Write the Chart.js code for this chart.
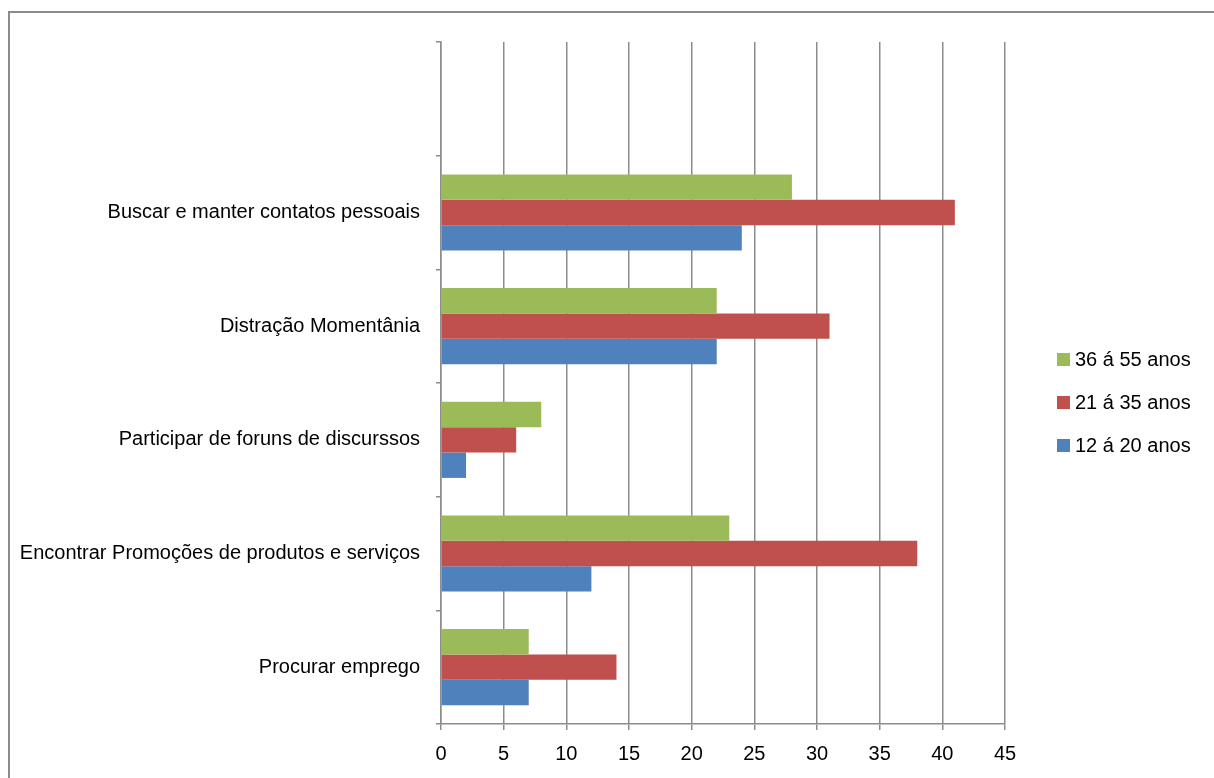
<!DOCTYPE html>
<html lang="pt">
<head>
    <meta charset="UTF-8">
    <title>Motivos de uso por faixa etária</title>
    <style>
        * { margin: 0; padding: 0; box-sizing: border-box; }
        body {
            width: 1214px;
            height: 778px;
            background: #ffffff;
            overflow: hidden;
            position: relative;
            font-family: 'Liberation Sans', Arial, sans-serif;
        }
        .frame {
            position: absolute;
            left: 8px;
            top: 11px;
            width: 1300px;
            height: 900px;
            border: 2px solid #8c8c8c;
        }
        #chart {
            position: absolute;
            left: 0;
            top: 0;
        }
        .legend {
            position: absolute;
            left: 1057px;
            top: 338px;
        }
        .legend-item {
            display: flex;
            align-items: center;
            height: 43px;
            font-size: 20px;
            color: #000;
        }
        .legend-item .box {
            width: 13px;
            height: 13px;
            margin-right: 5px;
        }
    </style>
</head>
<body>
    <div class="frame"></div>
    <canvas id="chart" width="1214" height="778"></canvas>
    <div class="legend" id="legend"></div>

    <script src="https://cdn.jsdelivr.net/npm/chart.js"></script>
    <script>
        // categorias (de cima para baixo), a primeira é vazia como no original
        const categories = [
            '',
            'Buscar e manter contatos pessoais',
            'Distração Momentânia',
            'Participar de foruns de discurssos',
            'Encontrar Promoções de produtos e serviços',
            'Procurar emprego'
        ];
        const seriesNames = ['36 á 55 anos', '21 á 35 anos', '12 á 20 anos'];
        const seriesColors = ['#9bbb59', '#c0504d', '#4f81bd'];
        const age36to55 = [null, 28, 22, 8, 23, 7];
        const age21to35 = [null, 41, 31, 6, 38, 14];
        const age12to20 = [null, 24, 22, 2, 12, 7];
        const xTicks = [0, 5, 10, 15, 20, 25, 30, 35, 40, 45];

        const seriesValues = [age36to55, age21to35, age12to20];
        const gridColor = '#8c8c8c';
        const labelFont = { family: "'Liberation Sans', Arial, sans-serif", size: 20 };

        const ctx = document.getElementById('chart').getContext('2d');
        const chart = new Chart(ctx, {
            type: 'bar',
            data: {
                labels: categories,
                datasets: seriesNames.map((name, i) => ({
                    label: name,
                    data: seriesValues[i],
                    backgroundColor: seriesColors[i],
                    borderWidth: 0,
                    categoryPercentage: 0.67,
                    barPercentage: 1.0
                }))
            },
            options: {
                indexAxis: 'y',
                responsive: false,
                animation: false,
                layout: { padding: { top: 42, right: 209, bottom: 0, left: 0 } },
                plugins: {
                    legend: { display: false },
                    tooltip: { enabled: false }
                },
                scales: {
                    x: {
                        min: xTicks[0],
                        max: xTicks[xTicks.length - 1],
                        afterFit: scale => { scale.height = 54; },
                        afterBuildTicks: scale => { scale.ticks = xTicks.map(v => ({ value: v })); },
                        ticks: { color: '#000', font: labelFont, padding: 12 },
                        grid: { color: gridColor, lineWidth: 1.5, tickLength: 6, tickColor: gridColor },
                        border: { color: gridColor, width: 1.5 }
                    },
                    y: {
                        afterFit: scale => { scale.width = 441; },
                        ticks: { color: '#000', font: labelFont, padding: 16, autoSkip: false },
                        grid: { drawOnChartArea: false, drawTicks: true, tickLength: 5, color: gridColor, lineWidth: 1.5 },
                        border: { color: gridColor, width: 1.5 }
                    }
                }
            }
        });

        // legenda em HTML, mesma ordem das séries
        const legend = document.getElementById('legend');
        seriesNames.forEach((name, i) => {
            const item = document.createElement('div');
            item.className = 'legend-item';
            item.innerHTML = '<span class="box" style="background:' + seriesColors[i] + '"></span><span>' + name + '</span>';
            legend.appendChild(item);
        });
    </script>
</body>
</html>
